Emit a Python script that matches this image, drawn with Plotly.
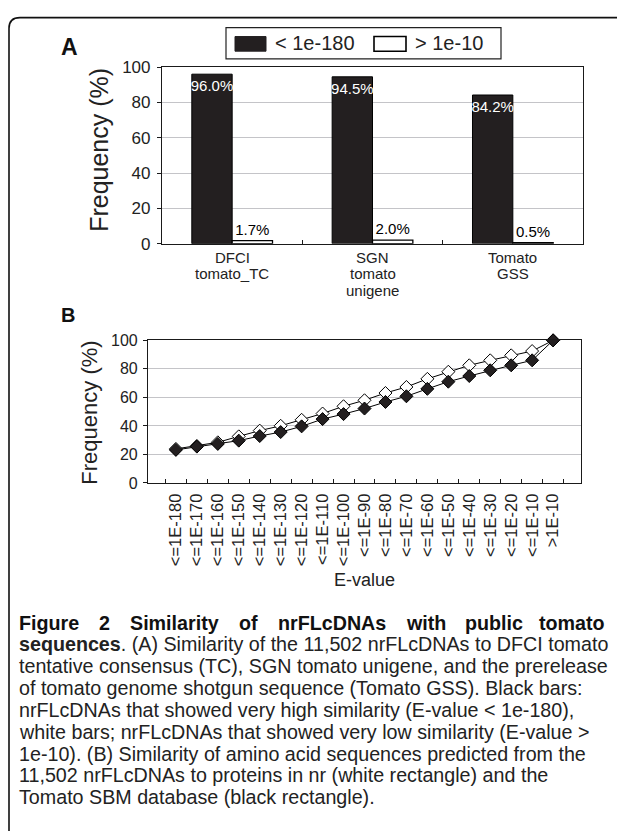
import plotly.graph_objects as go

# page body has an 8px margin: the figure is sized so it fits the 625x839 window
OFF = 8
W, H = 625 - OFF, 839 - 2 * OFF
def px(x): return (x - OFF) / W
def py(y): return 1 - (y - OFF) / H

# ---------------- data ----------------
cats_A = ["DFCI tomato_TC", "SGN tomato unigene", "Tomato GSS"]
cat_lines_A = [["DFCI", "tomato_TC"], ["SGN", "tomato", "unigene"], ["Tomato", "GSS"]]
high_sim = [96.0, 94.5, 84.2]     # < 1e-180
low_sim = [1.7, 2.0, 0.5]         # > 1e-10
legend_A = ["< 1e-180", "> 1e-10"]

evalue_cats = ["<=1E-180", "<=1E-170", "<=1E-160", "<=1E-150", "<=1E-140", "<=1E-130",
               "<=1E-120", "<=1E-110", "<=1E-100", "<=1E-90", "<=1E-80", "<=1E-70",
               "<=1E-60", "<=1E-50", "<=1E-40", "<=1E-30", "<=1E-20", "<=1E-10", ">1E-10"]
nr_vals = [23.9, 26.0, 28.5, 32.7, 36.7, 40.1, 44.3, 48.7, 53.8, 58.0, 63.1, 67.3,
           73.0, 78.0, 82.5, 86.0, 89.5, 92.5, 100.0]
sbm_vals = [23.2, 25.5, 27.4, 29.7, 32.9, 35.7, 39.7, 44.8, 48.3, 52.2, 56.8, 60.8,
            66.0, 71.0, 75.0, 79.0, 82.5, 86.0, 100.0]

caption_bold_words = ["Figure", "2", "Similarity", "of", "nrFLcDNAs", "with", "public", "tomato"]
caption_lines = [
    "<b>sequences</b>. (A) Similarity of the 11,502 nrFLcDNAs to DFCI tomato",
    "tentative consensus (TC), SGN tomato unigene, and the prerelease",
    "of tomato genome shotgun sequence (Tomato GSS). Black bars:",
    "nrFLcDNAs that showed very high similarity (E-value < 1e-180),",
    "white bars; nrFLcDNAs that showed very low similarity (E-value >",
    "1e-10). (B) Similarity of amino acid sequences predicted from the",
    "11,502 nrFLcDNAs to proteins in nr (white rectangle) and the",
    "Tomato SBM database (black rectangle).",
]

BLACK = "#231f20"
GRID = "#c4c4c8"
AX = "#1a1a1a"
TXT = "#222"
FONT = "Liberation Sans, Arial, sans-serif"
CAP_FONT = "Liberation Sans, Arial, sans-serif"

# layout geometry (page pixels)
A_TOP, A_BOT = 59.3, 240.0
B_TOP, B_BOT = 339.0, 485.0
CAP_Y0, CAP_DY = 627.9, 22.36
CAP_SIZE = 19.7

fig = go.Figure()

# ---------------- panel A ----------------
fig.add_trace(go.Bar(
    x=cats_A, y=high_sim, xaxis="x", yaxis="y", name=legend_A[0],
    marker=dict(color=BLACK, line=dict(color="black", width=1)),
    text=[f"{v:.1f}%" for v in high_sim], textposition="inside", textangle=0,
    insidetextanchor="end", constraintext="none",
    textfont=dict(color="white", size=15, family=FONT), showlegend=False))
fig.add_trace(go.Bar(
    x=cats_A, y=low_sim, xaxis="x", yaxis="y", name=legend_A[1],
    marker=dict(color="white", line=dict(color="black", width=1.3)),
    text=[f"{v:.1f}%" for v in low_sim], textposition="outside", textangle=0,
    constraintext="none", cliponaxis=False,
    textfont=dict(color="black", size=15, family=FONT), showlegend=False))

# ---------------- panel B ----------------
fig.add_trace(go.Scatter(
    x=evalue_cats, y=nr_vals, xaxis="x2", yaxis="y2", mode="lines+markers",
    line=dict(color="black", width=1),
    marker=dict(symbol="diamond", size=10, color="white", line=dict(color="black", width=1)),
    cliponaxis=False, showlegend=False))
fig.add_trace(go.Scatter(
    x=evalue_cats, y=sbm_vals, xaxis="x2", yaxis="y2", mode="lines+markers",
    line=dict(color="black", width=1),
    marker=dict(symbol="diamond", size=10, color=BLACK, line=dict(color="black", width=1)),
    cliponaxis=False, showlegend=False))

line_style = dict(showline=True, linecolor=AX, linewidth=1.2, mirror=True)

fig.update_layout(
    width=W, height=H, margin=dict(l=0, r=0, t=0, b=0),
    paper_bgcolor="white", plot_bgcolor="white",
    barmode="group", bargap=0.425, bargroupgap=0,
    font=dict(family=FONT, color=TXT),
    xaxis=dict(domain=[px(162), px(583)], anchor="y", type="category",
               showticklabels=False, ticks="inside", ticklen=4, tickcolor=AX,
               tickson="boundaries", showgrid=False, **line_style),
    yaxis=dict(domain=[py(A_BOT), py(A_TOP)], anchor="x", range=[0, 100], dtick=20,
               showgrid=True, gridcolor=GRID, gridwidth=1,
               ticks="outside", ticklen=4, tickcolor=AX, ticklabelstandoff=3, zeroline=False,
               tickfont=dict(family=FONT, color=TXT, size=17), **line_style),
    xaxis2=dict(domain=[px(148), px(581)], anchor="y2", type="category",
                ticks="inside", ticklen=4, tickcolor=AX, tickson="boundaries",
                tickangle=-90, showgrid=False, ticklabelstandoff=3,
                tickfont=dict(family=FONT, color=TXT, size=16.5), **line_style),
    yaxis2=dict(domain=[py(B_BOT), py(B_TOP)], anchor="x2", range=[0, 100], dtick=20,
                showgrid=True, gridcolor=GRID, gridwidth=1,
                ticks="outside", ticklen=4, tickcolor=AX, ticklabelstandoff=2, zeroline=False,
                tickfont=dict(family=FONT, color=TXT, size=16), **line_style),
)

def note(x, y, text, size, family=FONT, color=TXT, xa="center", ya="middle", angle=0, **kw):
    return dict(x=x, y=y, text=text, showarrow=False, xanchor=xa, yanchor=ya,
                textangle=angle, font=dict(family=family, size=size, color=color), **kw)

ann = []
# category labels A (multi-line, tight spacing)
for c, lines in zip(cats_A, cat_lines_A):
    for i, t in enumerate(lines):
        ann.append(note(c, py(254 + 16.8 * i), t, 15, xref="x", yref="paper"))
# axis titles
ann.append(note(px(99), py(144), "Frequency (%)", 25, angle=-90, xref="paper", yref="paper"))
ann.append(note(px(90), py(413), "Frequency (%)", 22, angle=-90, xref="paper", yref="paper"))
ann.append(note(px(364), py(584), "E-value", 18, xref="paper", yref="paper"))
# panel letters
ann.append(note(px(59), py(39), "<b>A</b>", 23, color="#111", xa="left", xref="paper", yref="paper"))
ann.append(note(px(59), py(313), "<b>B</b>", 20, color="#111", xa="left", xref="paper", yref="paper"))
# legend texts
ann.append(note(px(273), py(35), legend_A[0], 20, xa="left", xref="paper", yref="paper"))
ann.append(note(px(413), py(35), legend_A[1], 20, xa="left", xref="paper", yref="paper"))
# caption bold first line (justified by word placement)
word_x = [17, 97.2, 128.2, 236.9, 275.5, 403.9, 463.3, 607]
for i, (w, x) in enumerate(zip(caption_bold_words, word_x)):
    ann.append(note(px(x), py(CAP_Y0), f"<b>{w}</b>", CAP_SIZE, family=CAP_FONT, color="#111",
                    xa="right" if i == len(caption_bold_words) - 1 else "left",
                    xref="paper", yref="paper"))
for i, t in enumerate(caption_lines):
    ann.append(note(px(17), py(CAP_Y0 + CAP_DY * (i + 1)), t, CAP_SIZE, family=CAP_FONT, xa="left",
                    xref="paper", yref="paper"))
fig.update_layout(annotations=ann)

shapes = []
# outer rounded frame
r = 11
top = 8.6
shapes.append(dict(type="path", xref="paper", yref="paper",
                   path=f"M {px(9)},{py(860)} L {px(9)},{py(top + r)} Q {px(9)},{py(top)} {px(9 + r)},{py(top)} L {px(640)},{py(top)}",
                   line=dict(color="#111", width=1.6)))
# legend box and swatches
shapes.append(dict(type="rect", xref="paper", yref="paper", x0=px(226), x1=px(501), y0=py(50.8), y1=py(18.8),
                   line=dict(color=TXT, width=1.2), fillcolor="white", layer="below"))
shapes.append(dict(type="rect", xref="paper", yref="paper", x0=px(235), x1=px(266), y0=py(43), y1=py(28),
                   line=dict(color=BLACK, width=1), fillcolor=BLACK))
shapes.append(dict(type="rect", xref="paper", yref="paper", x0=px(374), x1=px(406), y0=py(43), y1=py(28),
                   line=dict(color="black", width=1.6), fillcolor="white"))
fig.update_layout(shapes=shapes)

fig.write_html("out.html")
